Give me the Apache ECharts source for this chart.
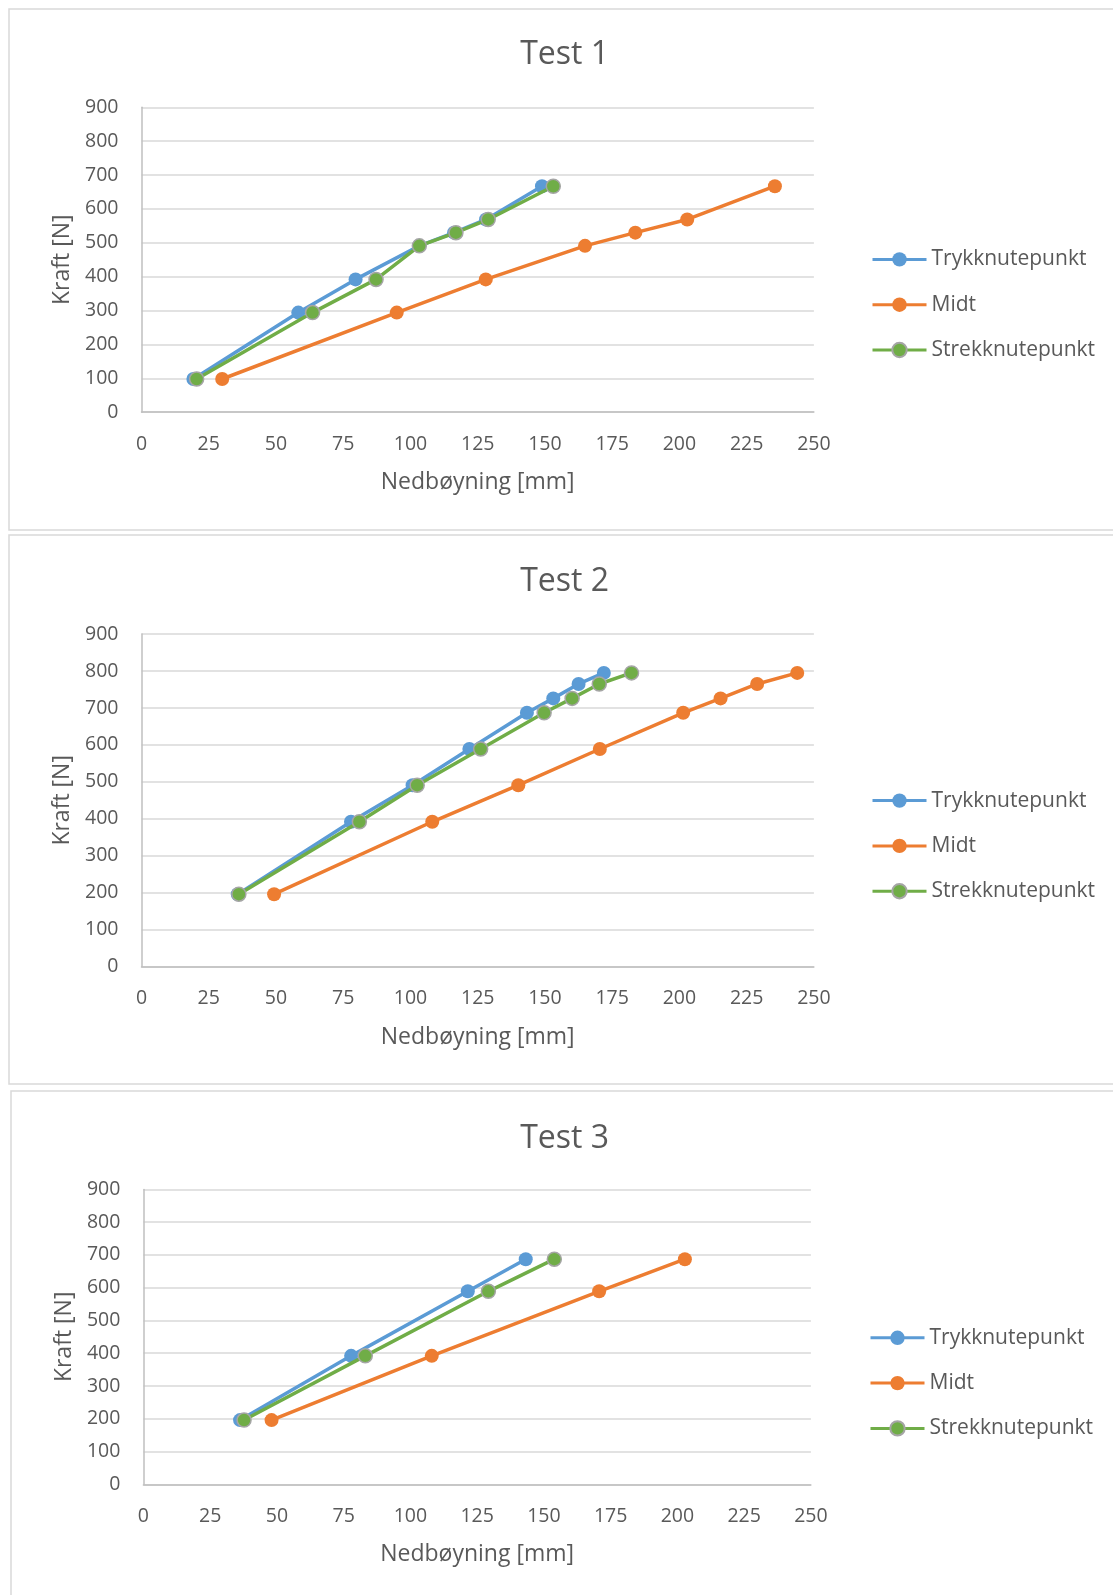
<!DOCTYPE html>
<html>
<head>
<meta charset="utf-8">
<script src="https://cdn.jsdelivr.net/npm/echarts@6/dist/echarts.min.js"></script>
<style>
html,body{margin:0;padding:0;background:#fff;}
#c{width:1113px;height:1595px;}
</style>
</head>
<body>
<div id="c"></div>
<script>
// ---- Data (Nedbøyning [mm] vs Kraft [N]) ----
const seriesNames = ['Trykknutepunkt', 'Midt', 'Strekknutepunkt'];
const titles = ['Test 1', 'Test 2', 'Test 3'];
const xTicks = [0, 25, 50, 75, 100, 125, 150, 175, 200, 225, 250];
const yTicks = [0, 100, 200, 300, 400, 500, 600, 700, 800, 900];

const t1_kraft   = [98, 294, 392, 491, 530, 569, 667];
const t1_trykk   = [19.3, 58.3, 79.6, 103.3, 116.2, 128.1, 148.9];
const t1_midt    = [30.0, 94.9, 128.0, 164.9, 183.6, 202.9, 235.5];
const t1_strekk  = [20.5, 63.6, 87.2, 103.3, 116.9, 128.9, 153.1];

const t2_kraft   = [196, 392, 491, 589, 687, 726, 765, 795];
const t2_trykk   = [35.8, 77.9, 100.8, 121.9, 143.3, 153.1, 162.5, 171.9];
const t2_midt    = [49.3, 108.1, 140.1, 170.4, 201.4, 215.3, 228.9, 243.8];
const t2_strekk  = [36.2, 81.0, 102.5, 126.1, 149.7, 160.1, 170.2, 182.2];

const t3_kraft   = [196, 392, 589, 687];
const t3_trykk   = [36.2, 77.8, 121.5, 143.2];
const t3_midt    = [48.0, 108.0, 170.7, 202.8];
const t3_strekk  = [37.7, 83.1, 129.2, 153.9];

// ---- Layout / style ----
const FONT = '"Open Sans", "Noto Sans", sans-serif';
const TXT = '#595959';
const colors = ['#5B9BD5', '#ED7D31', '#70AD47'];

const tests = [
  {kraft: t1_kraft, vals: [t1_trykk, t1_midt, t1_strekk]},
  {kraft: t2_kraft, vals: [t2_trykk, t2_midt, t2_strekk]},
  {kraft: t3_kraft, vals: [t3_trykk, t3_midt, t3_strekk]}
];

const grids = [
  {left: 141.5, top: 107.3, width: 672.4, height: 304.9},
  {left: 141.5, top: 634.1, width: 672.4, height: 332.5},
  {left: 143.4, top: 1189.4, width: 667.5, height: 294.9}
];
const titlePos = [55, 582, 1138.5];
const legendPos = [{left: 866, top: 243.4}, {left: 866, top: 784.6}, {left: 864, top: 1321.8}];
const panels = [
  {x: 9, y: 9, w: 1130, h: 521},
  {x: 9, y: 535, w: 1130, h: 549},
  {x: 11, y: 1091, w: 1130, h: 530}
];

const option = {
  backgroundColor: '#fff',
  animation: false,
  textStyle: {fontFamily: FONT},
  grid: [], xAxis: [], yAxis: [], series: [], legend: [], graphic: []
};

panels.forEach(p => {
  option.graphic.push({
    type: 'rect', silent: true, z: -1,
    shape: {x: p.x, y: p.y, width: p.w, height: p.h},
    style: {fill: 'none', stroke: '#d9d9d9', lineWidth: 1.5}
  });
});

tests.forEach((t, i) => {
  option.grid.push(Object.assign({containLabel: false}, grids[i]));
  option.graphic.push({
    type: 'text', silent: true, x: 564.6, y: titlePos[i],
    style: {text: titles[i], fill: TXT, fontSize: 32, fontFamily: FONT, align: 'center', verticalAlign: 'middle'}
  });
  option.xAxis.push({
    type: 'value', gridIndex: i, min: xTicks[0], max: xTicks[xTicks.length - 1],
    interval: xTicks[1] - xTicks[0],
    name: 'Nedbøyning [mm]', nameLocation: 'middle', nameGap: 59,
    nameTextStyle: {color: TXT, fontSize: 23, fontFamily: FONT},
    axisLine: {show: true, lineStyle: {color: '#bfbfbf', width: 1.5}},
    axisTick: {show: false},
    splitLine: {show: false},
    axisLabel: {color: TXT, fontSize: 19.5, fontFamily: FONT, margin: 22}
  });
  option.yAxis.push({
    type: 'value', gridIndex: i, min: yTicks[0], max: yTicks[yTicks.length - 1],
    interval: yTicks[1] - yTicks[0],
    name: 'Kraft [N]', nameLocation: 'middle', nameGap: 67,
    nameTextStyle: {color: TXT, fontSize: 23, fontFamily: FONT},
    axisLine: {show: true, lineStyle: {color: '#bfbfbf', width: 1.5}},
    axisTick: {show: false},
    splitLine: {show: true, lineStyle: {color: '#d9d9d9', width: 1.5}},
    axisLabel: {color: TXT, fontSize: 19.5, fontFamily: FONT, margin: 23}
  });
  t.vals.forEach((v, s) => {
    option.series.push({
      type: 'line', name: seriesNames[s], xAxisIndex: i, yAxisIndex: i,
      data: v.map((x, k) => [x, t.kraft[k]]),
      symbol: 'circle', symbolSize: 14,
      lineStyle: {color: colors[s], width: 3.5},
      itemStyle: s === 2 ? {color: colors[s], borderColor: '#a5a5a5', borderWidth: 1.5} : {color: colors[s]},
      z: 2 + s
    });
  });
  option.legend.push({
    orient: 'vertical', left: legendPos[i].left, top: legendPos[i].top,
    itemWidth: 54, itemHeight: 18, itemGap: 23.3,
    data: seriesNames,
    lineStyle: {width: 3},
    textStyle: {color: TXT, fontSize: 21, fontFamily: FONT, lineHeight: 22}
  });
});

const chart = echarts.init(document.getElementById('c'), null, {renderer: 'canvas'});
chart.setOption(option);
</script>
</body>
</html>
